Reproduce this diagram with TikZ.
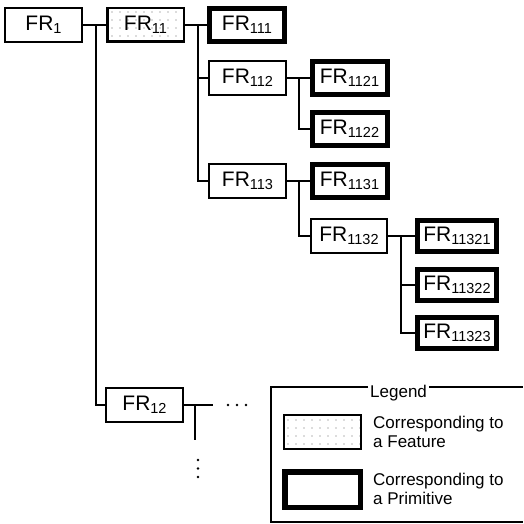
\documentclass[tikz,border=0pt]{standalone}
\usepackage{fontspec}
\setmainfont{Liberation Sans}
\usetikzlibrary{patterns.meta}
\newcommand\frsub[1]{\raisebox{-2.5pt}{\fontsize{14.5}{14.5}\selectfont #1}}
\newcommand\frlab[1]{FR\frsub{#1}}
\begin{document}
\begin{tikzpicture}[x=1pt,y=-1pt,
  box/.style={draw, line width=1.6pt, minimum width=76.5pt, minimum height=33.5pt, inner sep=0pt, font=\fontsize{21}{23}\selectfont},
  feat/.style={box, line width=2.5pt, pattern={Dots[distance=8pt,radius=0.6pt]}, pattern color=black!60},
  prim/.style={box, line width=5pt, minimum width=75pt, minimum height=33pt},
  primw/.style={prim, minimum width=79pt, minimum height=31pt},
  conn/.style={line width=1.5pt},
  legline/.style={line width=1.2pt},
  legtext/.style={anchor=west, align=left, inner sep=0pt, font=\fontsize{17}{19}\selectfont},
  dotmark/.style={fill, circle, inner sep=0pt, minimum size=2.6pt}]
\useasboundingbox (0,0) rectangle (523,524);
% boxes
\node[box] (FR1) at (43.5,25) {\frlab{1}};
\node[feat] (FR11) at (145.5,25) {\frlab{11}};
\node[prim] (FR111) at (247,25) {\frlab{111}};
\node[box] (FR112) at (247.5,78) {\frlab{112}};
\node[box] (FR113) at (247.5,181) {\frlab{113}};
\node[prim] (FR1121) at (349.5,78) {\frlab{1121}};
\node[prim] (FR1122) at (349.5,129) {\frlab{1122}};
\node[prim] (FR1131) at (349.5,181) {\frlab{1131}};
\node[box] (FR1132) at (349,236) {\frlab{1132}};
\node[primw] (FR11321) at (457,236) {\frlab{11321}};
\node[primw] (FR11322) at (457,285) {\frlab{11322}};
\node[primw] (FR11323) at (457,333) {\frlab{11323}};
\node[box] (FR12) at (144.5,405) {\frlab{12}};
% junctions
\coordinate (j1) at (96,25);
\coordinate (j2) at (198,25);
\coordinate (j3) at (299,78);
\coordinate (j4) at (299,181);
\coordinate (j5) at (401,236);
\coordinate (j6) at (195,405);
\coordinate (e1) at (213,405);
\coordinate (e2) at (195,440);
% connectors
\draw[conn] (FR1) -- (FR11);
\draw[conn] (j1) |- (FR12.west);
\draw[conn] (FR11) -- (FR111);
\draw[conn] (j2) |- (FR112.west);
\draw[conn] (j2) |- (FR113.west);
\draw[conn] (FR112) -- (FR1121);
\draw[conn] (j3) |- (FR1122.west);
\draw[conn] (FR113) -- (FR1131);
\draw[conn] (j4) |- (FR1132.west);
\draw[conn] (FR1132) -- (FR11321);
\draw[conn] (j5) |- (FR11322.west);
\draw[conn] (j5) |- (FR11323.west);
\draw[conn] (FR12.east) -- (e1);
\draw[conn] (j6) -- (e2);
% continuation dots
\node[dotmark] (h1) at (228,405) {};
\node[dotmark] (h2) at (237,405) {};
\node[dotmark] (h3) at (246,405) {};
\node[dotmark] (v1) at (198,460) {};
\node[dotmark] (v2) at (198,468.5) {};
\node[dotmark] (v3) at (198,477) {};
% legend
\coordinate (lgTL) at (271,387);
\coordinate (lgTR) at (523,387);
\coordinate (lgBL) at (271,522);
\coordinate (lgBR) at (523,522);
\node[anchor=base west, inner sep=2pt, font=\fontsize{17}{19}\selectfont] (leg) at (368,397) {Legend};
\draw[legline] (leg.west |- lgTL) -- (lgTL) -- (lgBL) -- (lgBR);
\draw[legline] (leg.east |- lgTR) -- (lgTR);
\node[feat, line width=2pt, minimum width=77pt, minimum height=34pt] (lgfeat) at (322.5,432) {};
\node[prim, line width=5.5pt, minimum width=75.5pt, minimum height=35.5pt] (lgprim) at (322.5,489.5) {};
\node[legtext] (lgfeattext) at (373,432) {Corresponding to\\a Feature};
\node[legtext] (lgprimtext) at (373,489) {Corresponding to\\a Primitive};
\end{tikzpicture}
\end{document}
